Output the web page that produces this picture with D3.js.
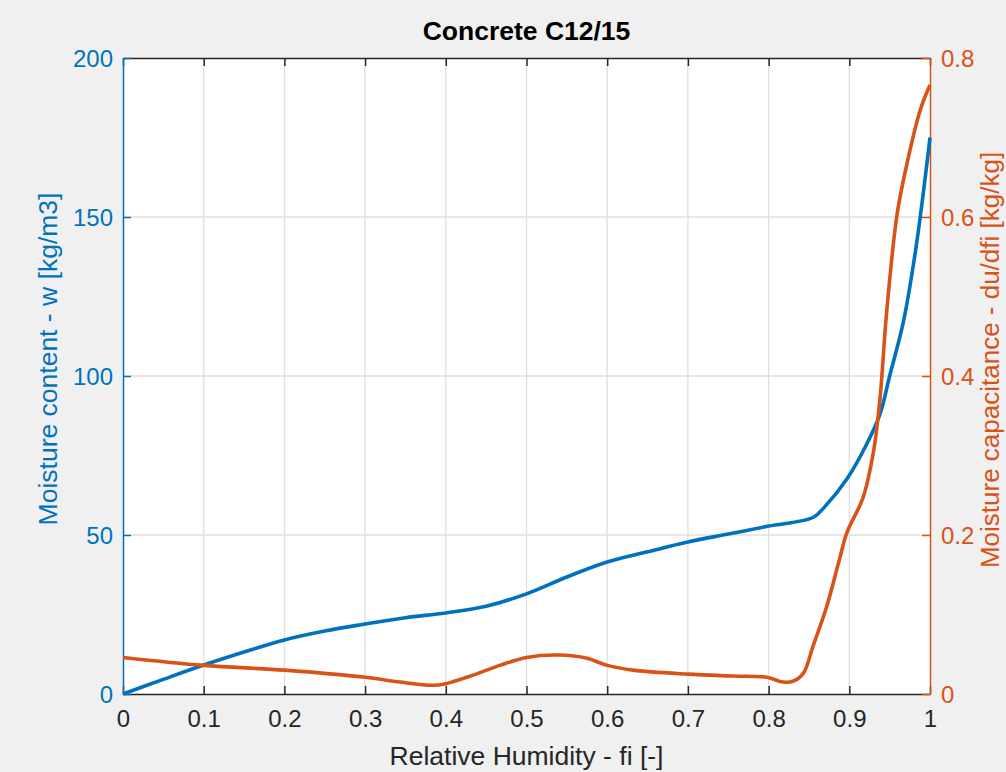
<!DOCTYPE html>
<html>
<head>
<meta charset="utf-8">
<script src="https://cdn.jsdelivr.net/npm/d3@7"></script>
<style>
  html, body { margin: 0; padding: 0; background: #f0f0f0; }
  svg { display: block; font-family: "Liberation Sans", Arial, Helvetica, sans-serif; }
</style>
</head>
<body>
<svg id="chart" width="1006" height="772"></svg>
<script>
// Relative humidity samples and the two curves for concrete C12/15
const fiW = [0, 0.05, 0.1, 0.15, 0.2, 0.25, 0.3, 0.35, 0.4, 0.45, 0.5, 0.55, 0.6, 0.65, 0.7, 0.75, 0.8, 0.855, 0.87, 0.897, 0.921, 0.938, 0.95, 0.967, 0.983, 1.0];
const moistureContent = [0, 4.6, 9.1, 13.2, 17, 19.8, 22, 24, 25.5, 27.6, 31.5, 36.8, 41.5, 44.7, 47.8, 50.3, 52.8, 55.5, 59, 67.6, 78.3, 88, 100, 117, 141, 175];

const fiC = [0, 0.1, 0.2, 0.3, 0.343, 0.384, 0.4, 0.426, 0.467, 0.5, 0.54, 0.575, 0.6, 0.632, 0.7, 0.756, 0.798, 0.818, 0.83, 0.843, 0.855, 0.872, 0.888, 0.897, 0.917, 0.93, 0.938, 0.946, 0.959, 0.971, 0.988, 1.0];
const moistureCapacitance = [0.046, 0.036, 0.030, 0.021, 0.015, 0.011, 0.013, 0.021, 0.036, 0.046, 0.049, 0.045, 0.036, 0.030, 0.025, 0.0226, 0.021, 0.015, 0.016, 0.026, 0.06, 0.11, 0.17, 0.203, 0.247, 0.305, 0.371, 0.477, 0.602, 0.665, 0.735, 0.766];

const xTicks = [0, 0.1, 0.2, 0.3, 0.4, 0.5, 0.6, 0.7, 0.8, 0.9, 1];
const xTickLabels = ["0", "0.1", "0.2", "0.3", "0.4", "0.5", "0.6", "0.7", "0.8", "0.9", "1"];
const yLeftTicks = [0, 50, 100, 150, 200];
const yRightTicks = [0, 0.2, 0.4, 0.6, 0.8];
const yRightTickLabels = ["0", "0.2", "0.4", "0.6", "0.8"];

const titleText = "Concrete C12/15";
const xLabel = "Relative Humidity - fi [-]";
const yLeftLabel = "Moisture content - w [kg/m3]";
const yRightLabel = "Moisture capacitance - du/dfi [kg/kg]";

const BLUE = "#0072BD", ORANGE = "#D95319", DARK = "#262626", GRID = "#dfdfdf";

const svg = d3.select("#chart");
const W = 1006, H = 772;
const m = { left: 123, right: 76, top: 58, bottom: 78 };
const x0 = m.left, x1 = W - m.right, y0 = H - m.bottom, y1 = m.top;

const x = d3.scaleLinear().domain([0, 1]).range([x0, x1]);
const yL = d3.scaleLinear().domain([0, 200]).range([y0, y1]);
const yR = d3.scaleLinear().domain([0, 0.8]).range([y0, y1]);

svg.append("rect").attr("width", W).attr("height", H).attr("fill", "#f0f0f0");
svg.append("rect").attr("x", x0).attr("y", y1).attr("width", x1 - x0).attr("height", y0 - y1).attr("fill", "#ffffff");

// grid
const grid = svg.append("g");
grid.selectAll("line.gx").data(xTicks.slice(1, -1)).join("line")
  .attr("x1", d => x(d)).attr("x2", d => x(d)).attr("y1", y1).attr("y2", y0)
  .attr("stroke", GRID).attr("stroke-width", 1.3);
grid.selectAll("line.gy").data(yLeftTicks.slice(1, -1)).join("line")
  .attr("x1", x0).attr("x2", x1).attr("y1", d => yL(d)).attr("y2", d => yL(d))
  .attr("stroke", GRID).attr("stroke-width", 1.3);

const TICK = 8;

// bottom axis
const gx = svg.append("g").attr("transform", `translate(0,${y0})`)
  .call(d3.axisBottom(x).tickValues(xTicks).tickSizeInner(-TICK).tickSizeOuter(0)
    .tickFormat((d, i) => xTickLabels[i]));
gx.select(".domain").attr("stroke", DARK).attr("stroke-width", 1.5);
gx.selectAll(".tick line").attr("stroke", DARK).attr("stroke-width", 1.5);
gx.selectAll(".tick text").attr("y", 33).attr("dy", null).attr("fill", DARK).attr("font-size", 24);

// top axis (ticks only)
const gt = svg.append("g").attr("transform", `translate(0,${y1})`)
  .call(d3.axisTop(x).tickValues(xTicks).tickSizeInner(-TICK).tickSizeOuter(0).tickFormat(""));
gt.select(".domain").attr("stroke", DARK).attr("stroke-width", 1.5);
gt.selectAll(".tick line").attr("stroke", DARK).attr("stroke-width", 1.5);

// left axis
const gl = svg.append("g").attr("transform", `translate(${x0},0)`)
  .call(d3.axisLeft(yL).tickValues(yLeftTicks).tickSizeInner(-TICK).tickSizeOuter(0).tickFormat(d3.format("d")));
gl.select(".domain").attr("stroke", BLUE).attr("stroke-width", 1.5);
gl.selectAll(".tick line").attr("stroke", BLUE).attr("stroke-width", 1.5);
gl.selectAll(".tick text").attr("x", -10).attr("dy", "0.36em").attr("fill", BLUE).attr("font-size", 24);

// right axis
const gr = svg.append("g").attr("transform", `translate(${x1},0)`)
  .call(d3.axisRight(yR).tickValues(yRightTicks).tickSizeInner(-TICK).tickSizeOuter(0)
    .tickFormat((d, i) => yRightTickLabels[i]));
gr.select(".domain").attr("stroke", ORANGE).attr("stroke-width", 1.5);
gr.selectAll(".tick line").attr("stroke", ORANGE).attr("stroke-width", 1.5);
gr.selectAll(".tick text").attr("x", 11).attr("dy", "0.36em").attr("fill", ORANGE).attr("font-size", 24);

svg.selectAll(".tick text").attr("font-family", null);

// curves
const smooth = d3.curveCatmullRom.alpha(0.5);
const lineW = d3.line().x((d, i) => x(fiW[i])).y(d => yL(d)).curve(smooth);
const lineC = d3.line().x((d, i) => x(fiC[i])).y(d => yR(d)).curve(smooth);

svg.append("path").datum(moistureContent).attr("d", lineW)
  .attr("fill", "none").attr("stroke", BLUE).attr("stroke-width", 3.6).attr("stroke-linejoin", "round");
svg.append("path").datum(moistureCapacitance).attr("d", lineC)
  .attr("fill", "none").attr("stroke", ORANGE).attr("stroke-width", 3.6).attr("stroke-linejoin", "round");

// title and labels
svg.append("text").attr("x", (x0 + x1) / 2).attr("y", 40).attr("text-anchor", "middle")
  .attr("font-size", 26.5).attr("font-weight", "bold").attr("fill", "#000").text(titleText);
svg.append("text").attr("x", (x0 + x1) / 2).attr("y", 765).attr("text-anchor", "middle")
  .attr("font-size", 26.5).attr("fill", DARK).text(xLabel);
svg.append("text").attr("transform", `translate(57,359) rotate(-90)`).attr("text-anchor", "middle")
  .attr("font-size", 26.5).attr("fill", BLUE).text(yLeftLabel);
svg.append("text").attr("transform", `translate(999,360) rotate(-90)`).attr("text-anchor", "middle")
  .attr("font-size", 26).attr("fill", ORANGE).text(yRightLabel);
</script>
</body>
</html>
